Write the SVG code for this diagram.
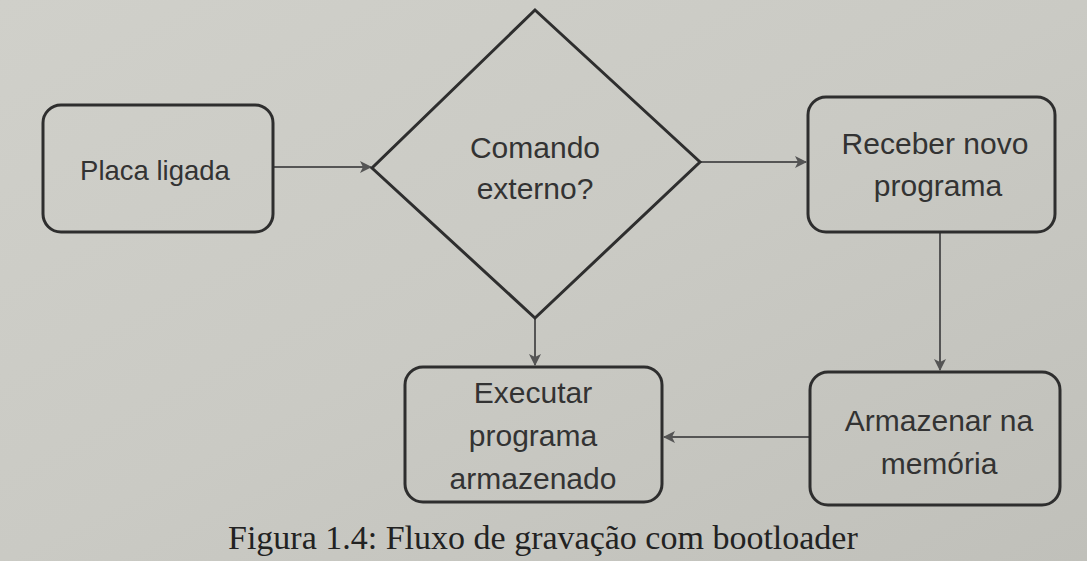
<svg xmlns="http://www.w3.org/2000/svg" width="1087" height="561" viewBox="0 0 1087 561">
<style>
.box{fill:none;stroke:#2e2e2e;stroke-width:3}
.lbl{font-family:"Liberation Sans",Arial,sans-serif;font-size:30px;fill:#333;text-anchor:middle}
.cap{font-family:"Liberation Serif","Times New Roman",serif;font-size:34px;fill:#222}
.con{stroke:#555;stroke-width:2;fill:none;marker-end:url(#ah)}
</style>
<defs>
<linearGradient id="bg" x1="0" y1="0" x2="1" y2="1">
<stop offset="0" stop-color="#d0d0ca"/>
<stop offset="0.5" stop-color="#cacac4"/>
<stop offset="1" stop-color="#c0c0ba"/>
</linearGradient>
<marker id="ah" markerWidth="12" markerHeight="12" refX="11" refY="6" orient="auto" markerUnits="userSpaceOnUse">
<path d="M0,0 L12,6 L0,12 L3,6 Z" fill="#555"/>
</marker>
</defs>
<rect width="1087" height="561" fill="url(#bg)"/>
<g id="connectors">
<line class="con" x1="274" y1="167" x2="371" y2="167"/>
<line class="con" x1="700" y1="162" x2="806" y2="162"/>
<line class="con" x1="535" y1="318" x2="535" y2="365"/>
<line class="con" x1="940" y1="233" x2="940" y2="370"/>
<line class="con" x1="809" y1="437" x2="664" y2="437"/>
</g>
<g id="n1">
<rect class="box" x="43" y="105" width="230" height="127" rx="18"/>
<text class="lbl" x="155" y="180" style="font-size:27.5px">Placa ligada</text>
</g>
<g id="n2">
<polygon class="box" points="535,10 700,162 535,318 372,168"/>
<text class="lbl" x="535" y="158">Comando</text>
<text class="lbl" x="535" y="199">externo?</text>
</g>
<g id="n3">
<rect class="box" x="808" y="97" width="247" height="135" rx="18"/>
<text class="lbl" x="935" y="154">Receber novo</text>
<text class="lbl" x="938" y="196">programa</text>
</g>
<g id="n4">
<rect class="box" x="810" y="372" width="250" height="133" rx="18"/>
<text class="lbl" x="939" y="431">Armazenar na</text>
<text class="lbl" x="939" y="474">memória</text>
</g>
<g id="n5">
<rect class="box" x="405" y="367" width="257" height="135" rx="18"/>
<text class="lbl" x="533" y="403">Executar</text>
<text class="lbl" x="533" y="446">programa</text>
<text class="lbl" x="533" y="489">armazenado</text>
</g>
<text class="cap" x="228" y="549">Figura 1.4: Fluxo de gravação com bootloader</text>
</svg>
